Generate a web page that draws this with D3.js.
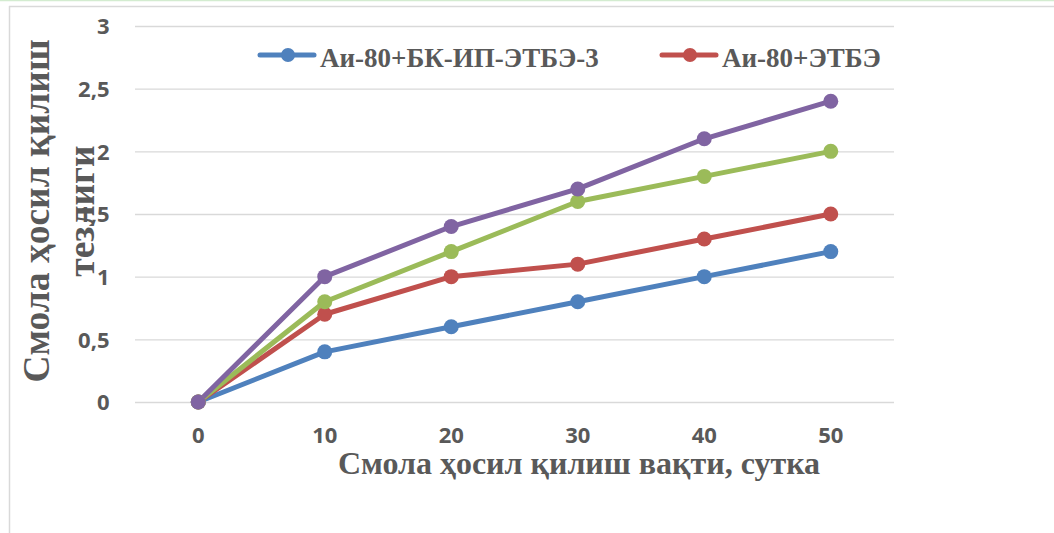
<!DOCTYPE html>
<html>
<head>
<meta charset="utf-8">
<script src="https://cdn.jsdelivr.net/npm/d3@7/dist/d3.min.js"></script>
<style>
html,body{margin:0;padding:0;background:#fff;}
svg{display:block;}
</style>
</head>
<body>
<svg id="chart" width="1054" height="533"></svg>
<script>
const categories = [0, 10, 20, 30, 40, 50];
const seriesBlue = [0, 0.4, 0.6, 0.8, 1.0, 1.2];
const seriesRed = [0, 0.7, 1.0, 1.1, 1.3, 1.5];
const seriesGreen = [0, 0.8, 1.2, 1.6, 1.8, 2.0];
const seriesPurple = [0, 1.0, 1.4, 1.7, 2.1, 2.4];
const yTicks = [0, 0.5, 1, 1.5, 2, 2.5, 3];
const legendNames = ["Аи-80+БК-ИП-ЭТБЭ-3", "Аи-80+ЭТБЭ"];
const xTitle = "Смола ҳосил қилиш вақти, сутка";
const yTitleLines = ["Смола ҳосил қилиш", "тезлиги"];

const series = [
  {values: seriesBlue, color: "#4F81BD"},
  {values: seriesRed, color: "#C0504D"},
  {values: seriesGreen, color: "#9BBB59"},
  {values: seriesPurple, color: "#8064A2"}
];

const svg = d3.select("#chart");
const textColor = "#595959";
const serif = "'Liberation Serif','Times New Roman',serif";
const sans = "'Open Sans','Liberation Sans',sans-serif";

// frame
svg.append("line").attr("x1",0).attr("x2",1054).attr("y1",0.5).attr("y2",0.5)
  .attr("stroke","#d3ecd0").attr("stroke-width",1.5);
svg.append("line").attr("x1",9).attr("x2",1054).attr("y1",6.5).attr("y2",6.5)
  .attr("stroke","#d9d9d9").attr("stroke-width",1.5);
svg.append("line").attr("x1",9.5).attr("x2",9.5).attr("y1",6).attr("y2",533)
  .attr("stroke","#d9d9d9").attr("stroke-width",1.5);

const plotLeft = 135, plotRight = 894, plotTop = 26, plotBottom = 402;

const x = d3.scaleBand().domain(categories).range([plotLeft, plotRight]);
const xc = d => x(d) + x.bandwidth()/2;
const y = d3.scaleLinear().domain([0, 3]).range([plotBottom, plotTop]);

// gridlines
const yAxis = d3.axisLeft(y).tickValues(yTicks).tickSize(-(plotRight-plotLeft))
  .tickFormat(d => String(d).replace(".", ","));
const gy = svg.append("g").attr("transform", `translate(${plotLeft},0)`).call(yAxis)
  .attr("font-size", 22).attr("font-family", sans);
gy.select(".domain").remove();
gy.selectAll(".tick line").attr("stroke","#d9d9d9").attr("stroke-width",1.3);
gy.selectAll(".tick text").attr("x",-25.5).attr("dy","0.36em").attr("fill",textColor)
  .style("font-family",sans).style("font-weight","700").style("font-size","22px");

const xAxis = d3.axisBottom(x).tickSize(0);
const gx = svg.append("g").attr("transform", `translate(0,${plotBottom})`).call(xAxis)
  .attr("font-size", 22).attr("font-family", sans);
gx.select(".domain").remove();
gx.selectAll(".tick text").attr("dy","0").attr("y",41).attr("fill",textColor)
  .style("font-family",sans).style("font-weight","700").style("font-size","22px");

// lines
const line = d3.line().x((d,i) => xc(categories[i])).y(d => y(d));
series.forEach(s => {
  svg.append("path").datum(s.values).attr("d", line).attr("fill","none")
    .attr("stroke", s.color).attr("stroke-width",5).attr("stroke-linejoin","round");
});
series.forEach(s => {
  svg.append("g").selectAll("circle").data(s.values).join("circle")
    .attr("cx",(d,i)=>xc(categories[i])).attr("cy",d=>y(d)).attr("r",7.5).attr("fill",s.color);
});

// legend
const legendX = [260, 662];
legendNames.forEach((name, i) => {
  const g = svg.append("g").attr("transform", `translate(${legendX[i]},55)`);
  g.append("line").attr("x1",0).attr("x2",54).attr("y1",0).attr("y2",0)
    .attr("stroke", series[i].color).attr("stroke-width",5).attr("stroke-linecap","round");
  g.append("circle").attr("cx",28).attr("cy",0).attr("r",7).attr("fill",series[i].color);
  g.append("text").attr("x",60).attr("y",12).text(name).attr("fill",textColor)
    .style("font-family",serif).style("font-weight","700").style("font-size","27px");
});

// x title
svg.append("text").attr("x",579).attr("y",474).attr("text-anchor","middle").text(xTitle)
  .attr("fill",textColor).style("font-family",serif).style("font-weight","700").style("font-size","32px");

// y title
const yt = svg.append("text").attr("transform","translate(49,211) rotate(-90)")
  .attr("text-anchor","middle").attr("fill",textColor)
  .style("font-family",serif).style("font-weight","700").style("font-size","37.5px");
yTitleLines.forEach((t,i) => {
  yt.append("tspan").attr("x",0).attr("dy", i===0 ? 0 : 45).text(t);
});
</script>
</body>
</html>
